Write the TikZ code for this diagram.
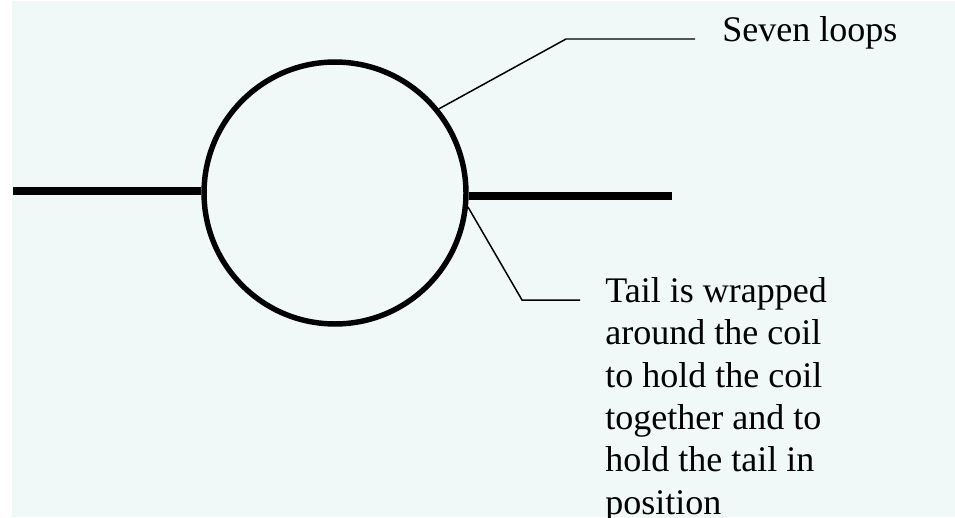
\documentclass[tikz,border=0pt]{standalone}
\usepackage{fontspec}
\setmainfont{Liberation Serif}
\usepackage{tikz}
\usetikzlibrary{positioning, calc}
\definecolor{bgcyan}{RGB}{240,248,248}

\begin{document}
\begin{tikzpicture}[
    x=0.02cm, y=-0.02cm,
    coil/.style={circle, draw, line width=3.1pt, minimum size=5.24cm, inner sep=0pt},
    tail/.style={line width=4pt},
    leader/.style={line width=0.85pt},
    note/.style={inner sep=0pt, align=left, font=\fontsize{20.5}{24.1}\selectfont}
]
\useasboundingbox (0,0) rectangle (955,517);
\clip (0,0) rectangle (955,517);
\fill[bgcyan] (12,1) rectangle (955,517);

\node[coil] (coil) at (335,193) {};
\coordinate (tailL) at (13,191);
\coordinate (tailR) at (672,196);
\draw[tail] (tailL) -- (tailL -| coil.west);
\draw[tail] (coil.east |- tailR) -- (tailR);

\node[note, anchor=base west] (seven) at (722,42) {Seven loops};
\node[note, anchor=north west] (wrap) at (605,277) {Tail is wrapped\\around the coil\\to hold the coil\\together and to\\hold the tail in\\position};

\coordinate (kneeA) at (566,39);
\coordinate (kneeB) at (522,300);
\draw[leader] (coil.39) -- (kneeA) -- ++(129,0);
\draw[leader] (coil.-6) -- (kneeB) -- ++(58,0);
\end{tikzpicture}
\end{document}
